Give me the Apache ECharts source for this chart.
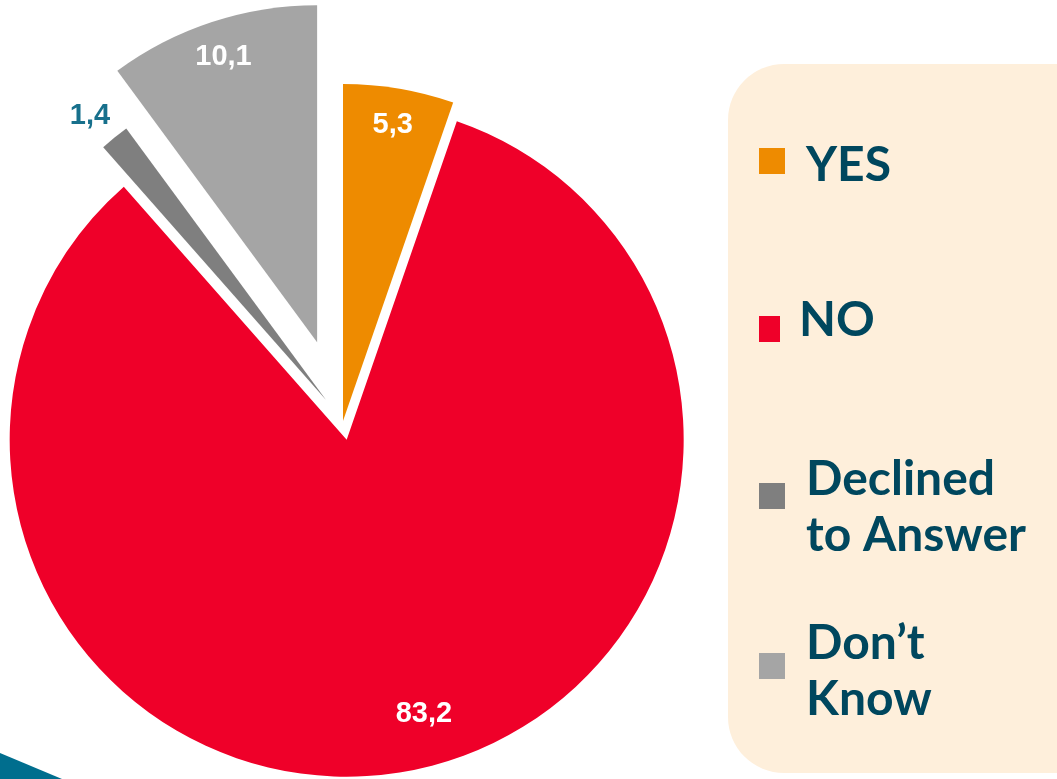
<!DOCTYPE html>
<html>
<head>
<meta charset="utf-8">
<script src="https://cdn.jsdelivr.net/npm/echarts@6/dist/echarts.min.js"></script>
<style>
html,body{margin:0;padding:0;background:#fff;}
#chart{width:1057px;height:779px;}
</style>
</head>
<body>
<div id="chart"></div>
<script>
// ---- data ----
const categories = ['YES', 'NO', 'Declined to Answer', "Don't Know"];
const values = [5.3, 83.2, 1.4, 10.1];
const legendLabels = ['YES', 'NO', 'Declined\nto Answer', 'Don\u2019t\nKnow'];

// ---- styles ----
const colors = ['#EE8B00', '#EF0029', '#7F7F7F', '#A5A5A5'];
const labelColors = ['#FFFFFF', '#FFFFFF', '#17708C', '#FFFFFF'];
const explode = [0, 19, 27, 83];
const center = [343, 421];
const R = 337;
const labelRing = [[257, 337], [217, 337], [339, 385], [257, 337]];
const labelPad = [[0, 0, 0, 0], [0, 0, 0, 46], [0, 14, 0, 0], [0, 0, 0, 0]];
const iconTops = [148, 316, 483, 653];
const iconW = [26, 21, 26, 26];
const textTops = [138, 293, 452, 616];
const textLefts = [801, 794, 801, 801];

const chart = echarts.init(document.getElementById('chart'), null, {renderer: 'canvas'});

const fmt = v => v.toFixed(1).replace('.', ',');

const series = [];
categories.forEach((cat, k) => {
  // sector for slice k
  series.push({
    type: 'pie', center: center, radius: [0, R], startAngle: 90, clockwise: true,
    selectedMode: 'multiple', selectedOffset: explode[k], animation: false, silent: true,
    avoidLabelOverlap: false, label: {show: false}, labelLine: {show: false},
    emphasis: {disabled: true},
    data: categories.map((c, i) => ({
      name: c, value: values[i], selected: i === k && explode[k] > 0,
      itemStyle: {color: i === k ? colors[i] : 'transparent', borderWidth: 0}
    }))
  });
  // label ring for slice k
  series.push({
    type: 'pie', center: center, radius: labelRing[k],
    startAngle: 90, clockwise: true,
    selectedMode: 'multiple', selectedOffset: explode[k], animation: false, silent: true,
    avoidLabelOverlap: false, labelLine: {show: false}, emphasis: {disabled: true},
    data: categories.map((c, i) => ({
      name: c, value: values[i], selected: i === k && explode[k] > 0,
      itemStyle: {color: 'transparent', borderWidth: 0},
      label: {
        show: i === k, position: 'inside',
        formatter: p => fmt(p.value),
        color: labelColors[i], fontFamily: 'Liberation Sans, Arial, sans-serif',
        fontWeight: 'bold', fontSize: 29,
        padding: labelPad[i]
      }
    }))
  });
});

// legend: icons and texts placed separately
const legends = [];
categories.forEach((c, i) => {
  legends.push({
    data: [{name: c, icon: 'rect', itemStyle: {color: colors[i]}}],
    left: 759, top: iconTops[i], orient: 'vertical', padding: 0,
    itemWidth: iconW[i], itemHeight: 26, selectedMode: false,
    formatter: () => '',
    textStyle: {fontSize: 1, lineHeight: 1}
  });
  legends.push({
    data: [{name: c, icon: 'none'}],
    left: textLefts[i], top: textTops[i], orient: 'vertical', padding: 0,
    itemWidth: 0, itemHeight: 0, selectedMode: false,
    formatter: name => legendLabels[categories.indexOf(name)],
    textStyle: {
      color: '#00475E', fontFamily: 'Lato, sans-serif', fontWeight: 'bold',
      fontSize: 48, lineHeight: 56
    }
  });
});

chart.setOption({
  backgroundColor: '#ffffff',
  animation: false,
  graphic: [
    {type: 'rect', z: -10, shape: {x: 728, y: 64, width: 420, height: 709, r: 56}, style: {fill: '#FEEFDB'}},
    {type: 'polygon', z: -10, shape: {points: [[0, 753], [62, 779], [0, 779]]}, style: {fill: '#006E8E'}}
  ],
  legend: legends,
  series: series
});
</script>
</body>
</html>
